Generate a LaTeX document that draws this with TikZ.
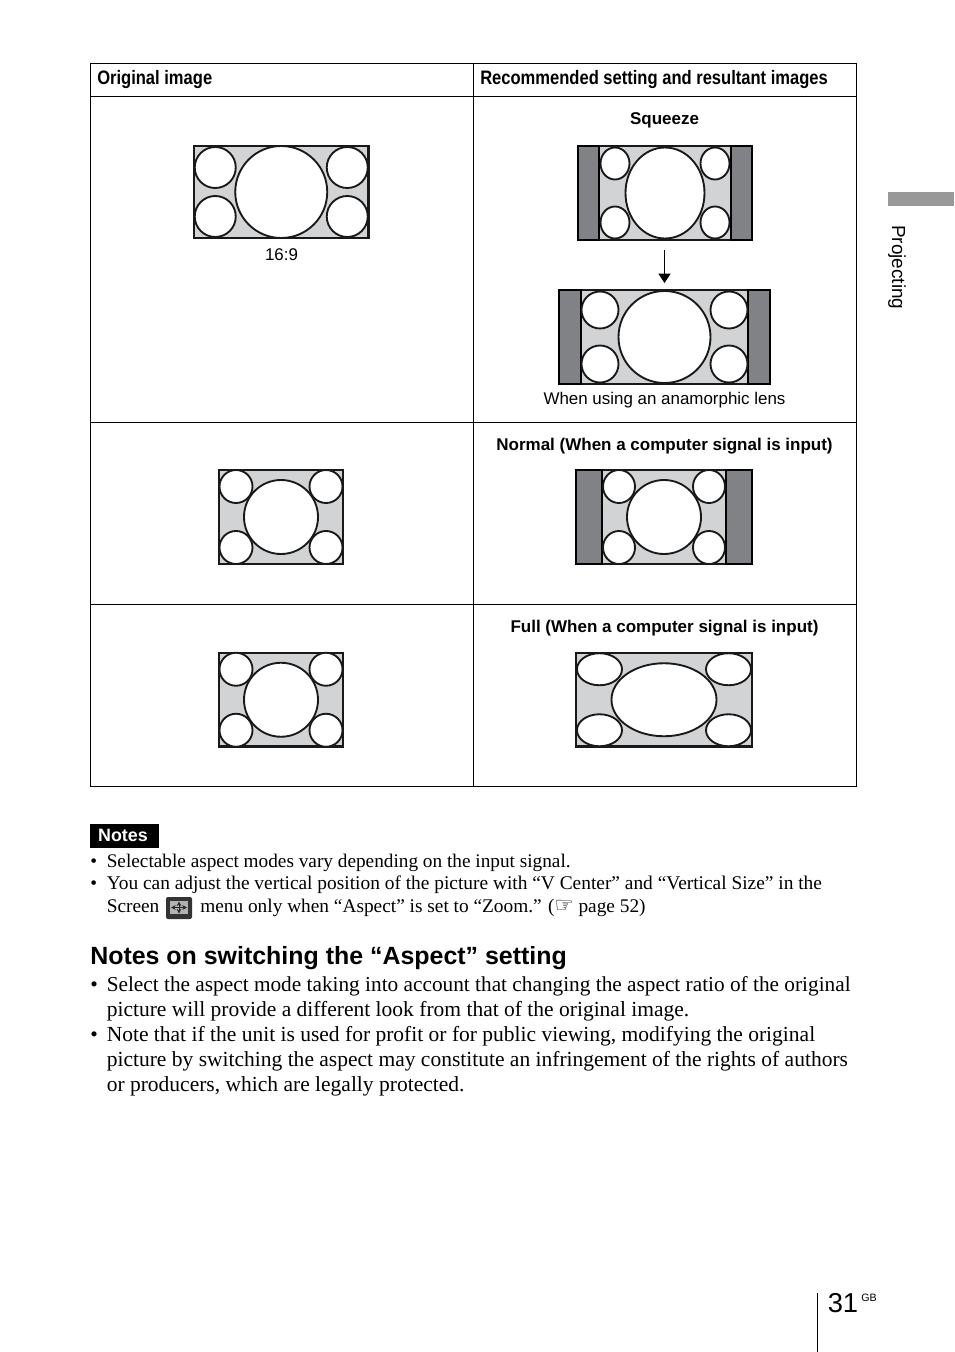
\documentclass[tikz,border=0pt]{standalone}
\usepackage{fontspec}
\usepackage{xcolor}
\setmainfont{Liberation Serif}
\setsansfont{Liberation Sans}
\newfontfamily\condfont[FakeStretch=0.85]{Liberation Sans}
\newfontfamily\symfont{DejaVu Sans}
\usetikzlibrary{arrows.meta}
\definecolor{screengray}{HTML}{D1D3D4}
\definecolor{bargray}{HTML}{808285}
\tikzset{
  screenframe/.style={draw=black!90, line width=2.1pt, fill=screengray, inner sep=0pt, outer sep=0pt},
  shape line/.style={draw=black!90, line width=1.4pt, fill=white},
  head label/.style={anchor=base west, inner sep=0pt, font=\condfont\bfseries\fontsize{14.6}{16}\selectfont},
  pic label/.style={anchor=base, inner sep=0pt, font=\sffamily\fontsize{12.7}{15}\selectfont},
  pic title/.style={anchor=base, inner sep=0pt, font=\sffamily\bfseries\fontsize{12.75}{15}\selectfont},
  note line/.style={anchor=base west, inner sep=0pt, font=\fontsize{14.5}{16}\selectfont},
  body line/.style={anchor=base west, inner sep=0pt, font=\fontsize{16.13}{18}\selectfont},
}

\begin{document}
\begin{tikzpicture}[x=0.75pt, y=-0.75pt]
    \useasboundingbox (0,0) rectangle (954,1352);
    \fill[white] (0,0) rectangle (954,1352);

    % table
    \draw[line width=0.75pt] (90.5,63.5) rectangle (856.5,786.5);
    \draw[line width=0.75pt] (473.5,63.5) -- (473.5,786.5);
    \foreach \rowy in {96.5,422.5,604.5}
        \draw[line width=0.75pt] (90.5,\rowy) -- (856.5,\rowy);

    \node[head label] (headleft) at (97,85) {Original image};
    \node[head label] (headright) at (480,85) {Recommended setting and resultant images};

    \node[pic title] (squeezetitle) at (664.5,125) {Squeeze};
    \node[pic label] (ratiolabel) at (281.5,260) {16:9};
    \node[pic label] (lenslabel) at (664.5,404) {When using an anamorphic lens};
    \node[pic title] (normaltitle) at (664.5,450) {Normal (When a computer signal is input)};
    \node[pic title] (fulltitle) at (664.5,632) {Full (When a computer signal is input)};

    % screens: name/box/bar width/big radii/small offsets/small radii
    \foreach \name/\xa/\ya/\xb/\yb/\barw/\brx/\bry/\sdx/\sdy/\srx/\sry in {
        wide/194/146/368.5/238/0/46/46/66/24.5/20.5/20.5,
        squeeze/578/146/752/240/21/39.5/45.5/50/29.5/14.5/16,
        anamorphic/559/290/770/384/22/46/46/64.5/27/18.5/18.5,
        normalleft/219/470/343/564/0/37/37/45/30.5/16.5/16.5,
        normalright/576/470/752/564/26/37/37/45/30.5/16/16.5,
        fullleft/219/653/343/746.5/0/37/37/45/30.5/16.5/16.5,
        fullright/576/653/752/746.5/0/52.5/36.5/64.5/30.5/22.5/16}
    {
        \node[screenframe, minimum width={(\xb-\xa)*0.75pt}, minimum height={(\yb-\ya)*0.75pt}]
            (\name) at ({(\xa+\xb)/2},{(\ya+\yb)/2}) {};
        \ifdim \barw pt>0pt
            \draw[line width=2.1pt, fill=bargray] (\xa,\ya) rectangle (\xa+\barw,\yb);
            \draw[line width=2.1pt, fill=bargray] (\xb-\barw,\ya) rectangle (\xb,\yb);
        \fi
        \path[shape line] (\name.center) ellipse [x radius=\brx, y radius=\bry];
        \foreach \sx in {-1,1}
            \foreach \sy in {-1,1}
                \path[shape line] ([xshift=\sx*\sdx*0.75pt, yshift=\sy*\sdy*0.75pt]\name.center)
                    ellipse [x radius=\srx, y radius=\sry];
    }

    \coordinate (arrowtop) at (664.5,250);
    \coordinate (arrowend) at (664.5,283);
    \draw[-{Triangle[length=7pt, width=9pt]}, line width=0.9pt] (arrowtop) -- (arrowend);

    % notes
    \fill[black] (90,824) rectangle (159,848);
    \node[anchor=base, inner sep=0pt, text=white, font=\sffamily\bfseries\fontsize{13.4}{15}\selectfont] (notesbadge) at (123,841) {Notes};
    \node[note line] (bulleta) at (90,867) {•};
    \node[note line, font=\fontsize{14.45}{16}\selectfont] (notea) at (106.5,867) {Selectable aspect modes vary depending on the input signal.};
    \node[note line] (bulletb) at (90,889) {•};
    \node[note line, font=\fontsize{14.54}{16}\selectfont] (noteb) at (106.5,889) {You can adjust the vertical position of the picture with “V Center” and “Vertical Size” in the};
    \node[note line] (notec) at (106.5,912) {Screen};
    \node[note line] (noted) at (200,912) {menu only when “Aspect” is set to “Zoom.” ({\symfont\fontsize{16}{17}\selectfont ☞} page 52)};

    % screen menu icon
    \fill[black!80, rounded corners=1.5pt] (166,897) rectangle (192,919);
    \fill[black!30] (170,901) rectangle (188,914);
    \draw[{Stealth[length=3.5pt, width=3.5pt]}-{Stealth[length=3.5pt, width=3.5pt]}, line width=0.7pt, black!85] (171,907.5) -- (187,907.5);
    \draw[{Stealth[length=3.5pt, width=3.5pt]}-{Stealth[length=3.5pt, width=3.5pt]}, line width=0.7pt, black!85] (179,901.5) -- (179,913.5);

    % aspect section
    \node[anchor=base west, inner sep=0pt, font=\sffamily\bfseries\fontsize{18.7}{22}\selectfont] (sectionhead) at (90,964) {Notes on switching the “Aspect” setting};
    \node[body line] (bulletc) at (90,991) {•};
    \node[body line, font=\fontsize{15.97}{18}\selectfont] (bodya) at (106.5,991) {Select the aspect mode taking into account that changing the aspect ratio of the original};
    \node[body line] (bodyb) at (106.5,1016) {picture will provide a different look from that of the original image.};
    \node[body line] (bulletd) at (90,1041) {•};
    \node[body line] (bodyc) at (106.5,1041) {Note that if the unit is used for profit or for public viewing, modifying the original};
    \node[body line] (bodyd) at (106.5,1066) {picture by switching the aspect may constitute an infringement of the rights of authors};
    \node[body line] (bodye) at (106.5,1091) {or producers, which are legally protected.};

    % margin
    \fill[black!40] (888,192) rectangle (954,206);
    \node[rotate=-90, anchor=base west, inner sep=0pt, font=\sffamily\fontsize{14.2}{16}\selectfont] (tablabel) at (892,225) {Projecting};
    \draw[line width=0.75pt] (817,1293) -- (817,1352);
    \node[anchor=base west, inner sep=0pt, font=\sffamily\fontsize{20.5}{24}\selectfont] (pagenum) at (827.5,1312) {31};
    \node[anchor=base west, inner sep=0pt, font=\sffamily\fontsize{8}{9}\selectfont] (pagegb) at (861,1301) {GB};
\end{tikzpicture}
\end{document}
